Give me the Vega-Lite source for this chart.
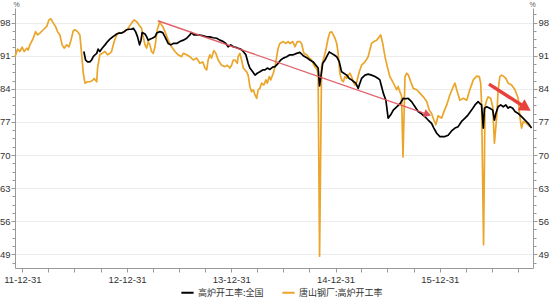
{
 "$schema": "https://vega.github.io/schema/vega-lite/v6.json",
 "width": 518,
 "height": 260,
 "autosize": {"type": "none"},
 "padding": {"left": 15, "top": 8, "right": 17, "bottom": 32},
 "background": "white",
 "config": {
  "view": {"stroke": null},
  "font": "Liberation Sans",
  "axis": {"labelFont": "Liberation Sans", "labelFontSize": 9.5, "labelColor": "#333333", "domainColor": "#999999", "tickColor": "#999999", "titleFont": "Liberation Sans", "titleFontWeight": "normal", "titleColor": "#555555"}
 },
 "datasets": {
  "rates": [
   {"date":"2011-12-05","value":90.8,"series":"唐山钢厂:高炉开工率"},
   {"date":"2011-12-14","value":92.4,"series":"唐山钢厂:高炉开工率"},
   {"date":"2011-12-22","value":91.9,"series":"唐山钢厂:高炉开工率"},
   {"date":"2011-12-30","value":92.8,"series":"唐山钢厂:高炉开工率"},
   {"date":"2012-01-06","value":91.9,"series":"唐山钢厂:高炉开工率"},
   {"date":"2012-01-15","value":92.6,"series":"唐山钢厂:高炉开工率"},
   {"date":"2012-01-20","value":92.2,"series":"唐山钢厂:高炉开工率"},
   {"date":"2012-01-26","value":93.3,"series":"唐山钢厂:高炉开工率"},
   {"date":"2012-02-07","value":94.7,"series":"唐山钢厂:高炉开工率"},
   {"date":"2012-02-15","value":96.1,"series":"唐山钢厂:高炉开工率"},
   {"date":"2012-02-22","value":95.4,"series":"唐山钢厂:高炉开工率"},
   {"date":"2012-03-01","value":95.8,"series":"唐山钢厂:高炉开工率"},
   {"date":"2012-03-13","value":96.5,"series":"唐山钢厂:高炉开工率"},
   {"date":"2012-03-25","value":97.2,"series":"唐山钢厂:高炉开工率"},
   {"date":"2012-04-02","value":98.6,"series":"唐山钢厂:高炉开工率"},
   {"date":"2012-04-09","value":98.8,"series":"唐山钢厂:高炉开工率"},
   {"date":"2012-04-17","value":97.9,"series":"唐山钢厂:高炉开工率"},
   {"date":"2012-04-25","value":97.2,"series":"唐山钢厂:高炉开工率"},
   {"date":"2012-05-02","value":96.1,"series":"唐山钢厂:高炉开工率"},
   {"date":"2012-05-10","value":95.4,"series":"唐山钢厂:高炉开工率"},
   {"date":"2012-05-18","value":93.3,"series":"唐山钢厂:高炉开工率"},
   {"date":"2012-05-25","value":92.6,"series":"唐山钢厂:高炉开工率"},
   {"date":"2012-06-03","value":93.3,"series":"唐山钢厂:高炉开工率"},
   {"date":"2012-06-11","value":92.9,"series":"唐山钢厂:高炉开工率"},
   {"date":"2012-06-18","value":94.3,"series":"唐山钢厂:高炉开工率"},
   {"date":"2012-06-26","value":96.3,"series":"唐山钢厂:高炉开工率"},
   {"date":"2012-07-02","value":96.5,"series":"唐山钢厂:高炉开工率"},
   {"date":"2012-07-11","value":96.1,"series":"唐山钢厂:高炉开工率"},
   {"date":"2012-07-19","value":95.4,"series":"唐山钢厂:高炉开工率"},
   {"date":"2012-07-25","value":91.5,"series":"唐山钢厂:高炉开工率"},
   {"date":"2012-07-31","value":87.3,"series":"唐山钢厂:高炉开工率"},
   {"date":"2012-08-06","value":85.2,"series":"唐山钢厂:高炉开工率"},
   {"date":"2012-08-15","value":85.5,"series":"唐山钢厂:高炉开工率"},
   {"date":"2012-08-23","value":85.5,"series":"唐山钢厂:高炉开工率"},
   {"date":"2012-08-31","value":85.7,"series":"唐山钢厂:高炉开工率"},
   {"date":"2012-09-07","value":86.2,"series":"唐山钢厂:高炉开工率"},
   {"date":"2012-09-16","value":85.5,"series":"唐山钢厂:高炉开工率"},
   {"date":"2012-09-19","value":88.4,"series":"唐山钢厂:高炉开工率"},
   {"date":"2012-09-27","value":91.2,"series":"唐山钢厂:高炉开工率"},
   {"date":"2012-10-05","value":91.5,"series":"唐山钢厂:高炉开工率"},
   {"date":"2012-10-15","value":91.9,"series":"唐山钢厂:高炉开工率"},
   {"date":"2012-10-24","value":91.2,"series":"唐山钢厂:高炉开工率"},
   {"date":"2012-11-01","value":91.5,"series":"唐山钢厂:高炉开工率"},
   {"date":"2012-11-07","value":91.9,"series":"唐山钢厂:高炉开工率"},
   {"date":"2012-11-16","value":94.0,"series":"唐山钢厂:高炉开工率"},
   {"date":"2012-11-25","value":95.4,"series":"唐山钢厂:高炉开工率"},
   {"date":"2012-12-03","value":95.9,"series":"唐山钢厂:高炉开工率"},
   {"date":"2012-12-12","value":95.8,"series":"唐山钢厂:高炉开工率"},
   {"date":"2012-12-24","value":96.2,"series":"唐山钢厂:高炉开工率"},
   {"date":"2013-01-04","value":96.8,"series":"唐山钢厂:高炉开工率"},
   {"date":"2013-01-16","value":97.9,"series":"唐山钢厂:高炉开工率"},
   {"date":"2013-01-25","value":98.6,"series":"唐山钢厂:高炉开工率"},
   {"date":"2013-02-03","value":98.2,"series":"唐山钢厂:高炉开工率"},
   {"date":"2013-02-11","value":97.5,"series":"唐山钢厂:高炉开工率"},
   {"date":"2013-02-20","value":96.8,"series":"唐山钢厂:高炉开工率"},
   {"date":"2013-02-26","value":95.0,"series":"唐山钢厂:高炉开工率"},
   {"date":"2013-03-04","value":93.3,"series":"唐山钢厂:高炉开工率"},
   {"date":"2013-03-10","value":92.6,"series":"唐山钢厂:高炉开工率"},
   {"date":"2013-03-15","value":94.0,"series":"唐山钢厂:高炉开工率"},
   {"date":"2013-03-21","value":93.3,"series":"唐山钢厂:高炉开工率"},
   {"date":"2013-03-27","value":91.9,"series":"唐山钢厂:高炉开工率"},
   {"date":"2013-04-02","value":91.5,"series":"唐山钢厂:高炉开工率"},
   {"date":"2013-04-08","value":92.9,"series":"唐山钢厂:高炉开工率"},
   {"date":"2013-04-16","value":96.5,"series":"唐山钢厂:高炉开工率"},
   {"date":"2013-04-24","value":98.1,"series":"唐山钢厂:高炉开工率"},
   {"date":"2013-05-05","value":97.2,"series":"唐山钢厂:高炉开工率"},
   {"date":"2013-05-13","value":96.1,"series":"唐山钢厂:高炉开工率"},
   {"date":"2013-05-24","value":94.3,"series":"唐山钢厂:高炉开工率"},
   {"date":"2013-06-05","value":92.9,"series":"唐山钢厂:高炉开工率"},
   {"date":"2013-06-17","value":91.9,"series":"唐山钢厂:高炉开工率"},
   {"date":"2013-06-28","value":91.2,"series":"唐山钢厂:高炉开工率"},
   {"date":"2013-07-10","value":90.8,"series":"唐山钢厂:高炉开工率"},
   {"date":"2013-07-16","value":91.5,"series":"唐山钢厂:高炉开工率"},
   {"date":"2013-07-28","value":91.2,"series":"唐山钢厂:高炉开工率"},
   {"date":"2013-08-08","value":90.8,"series":"唐山钢厂:高炉开工率"},
   {"date":"2013-08-20","value":90.1,"series":"唐山钢厂:高炉开工率"},
   {"date":"2013-09-01","value":90.5,"series":"唐山钢厂:高炉开工率"},
   {"date":"2013-09-12","value":89.4,"series":"唐山钢厂:高炉开工率"},
   {"date":"2013-09-22","value":89.7,"series":"唐山钢厂:高炉开工率"},
   {"date":"2013-09-30","value":88.4,"series":"唐山钢厂:高炉开工率"},
   {"date":"2013-10-06","value":88.0,"series":"唐山钢厂:高炉开工率"},
   {"date":"2013-10-11","value":90.1,"series":"唐山钢厂:高炉开工率"},
   {"date":"2013-10-17","value":91.2,"series":"唐山钢厂:高炉开工率"},
   {"date":"2013-10-23","value":90.5,"series":"唐山钢厂:高炉开工率"},
   {"date":"2013-10-31","value":92.1,"series":"唐山钢厂:高炉开工率"},
   {"date":"2013-11-07","value":91.5,"series":"唐山钢厂:高炉开工率"},
   {"date":"2013-11-15","value":90.1,"series":"唐山钢厂:高炉开工率"},
   {"date":"2013-11-27","value":89.0,"series":"唐山钢厂:高炉开工率"},
   {"date":"2013-12-09","value":88.7,"series":"唐山钢厂:高炉开工率"},
   {"date":"2013-12-17","value":89.0,"series":"唐山钢厂:高炉开工率"},
   {"date":"2013-12-26","value":88.4,"series":"唐山钢厂:高炉开工率"},
   {"date":"2014-01-01","value":89.0,"series":"唐山钢厂:高炉开工率"},
   {"date":"2014-01-07","value":90.1,"series":"唐山钢厂:高炉开工率"},
   {"date":"2014-01-13","value":90.1,"series":"唐山钢厂:高炉开工率"},
   {"date":"2014-01-21","value":89.4,"series":"唐山钢厂:高炉开工率"},
   {"date":"2014-01-24","value":90.8,"series":"唐山钢厂:高炉开工率"},
   {"date":"2014-01-30","value":91.5,"series":"唐山钢厂:高炉开工率"},
   {"date":"2014-02-05","value":90.1,"series":"唐山钢厂:高炉开工率"},
   {"date":"2014-02-11","value":88.4,"series":"唐山钢厂:高炉开工率"},
   {"date":"2014-02-23","value":87.6,"series":"唐山钢厂:高炉开工率"},
   {"date":"2014-02-28","value":86.9,"series":"唐山钢厂:高炉开工率"},
   {"date":"2014-03-06","value":84.5,"series":"唐山钢厂:高炉开工率"},
   {"date":"2014-03-12","value":83.4,"series":"唐山钢厂:高炉开工率"},
   {"date":"2014-03-18","value":83.8,"series":"唐山钢厂:高炉开工率"},
   {"date":"2014-03-24","value":82.7,"series":"唐山钢厂:高炉开工率"},
   {"date":"2014-03-30","value":82.0,"series":"唐山钢厂:高炉开工率"},
   {"date":"2014-04-04","value":83.8,"series":"唐山钢厂:高炉开工率"},
   {"date":"2014-04-10","value":84.1,"series":"唐山钢厂:高炉开工率"},
   {"date":"2014-04-16","value":85.2,"series":"唐山钢厂:高炉开工率"},
   {"date":"2014-04-24","value":84.8,"series":"唐山钢厂:高炉开工率"},
   {"date":"2014-05-01","value":85.9,"series":"唐山钢厂:高炉开工率"},
   {"date":"2014-05-06","value":85.2,"series":"唐山钢厂:高炉开工率"},
   {"date":"2014-05-13","value":86.6,"series":"唐山钢厂:高炉开工率"},
   {"date":"2014-05-18","value":85.9,"series":"唐山钢厂:高炉开工率"},
   {"date":"2014-05-27","value":87.3,"series":"唐山钢厂:高炉开工率"},
   {"date":"2014-06-02","value":88.7,"series":"唐山钢厂:高炉开工率"},
   {"date":"2014-06-08","value":90.8,"series":"唐山钢厂:高炉开工率"},
   {"date":"2014-06-13","value":92.6,"series":"唐山钢厂:高炉开工率"},
   {"date":"2014-06-19","value":93.6,"series":"唐山钢厂:高炉开工率"},
   {"date":"2014-07-01","value":94.0,"series":"唐山钢厂:高炉开工率"},
   {"date":"2014-07-10","value":93.6,"series":"唐山钢厂:高炉开工率"},
   {"date":"2014-07-18","value":94.0,"series":"唐山钢厂:高炉开工率"},
   {"date":"2014-07-24","value":93.6,"series":"唐山钢厂:高炉开工率"},
   {"date":"2014-08-03","value":94.0,"series":"唐山钢厂:高炉开工率"},
   {"date":"2014-08-11","value":92.9,"series":"唐山钢厂:高炉开工率"},
   {"date":"2014-08-19","value":94.0,"series":"唐山钢厂:高炉开工率"},
   {"date":"2014-08-28","value":94.0,"series":"唐山钢厂:高炉开工率"},
   {"date":"2014-09-03","value":93.6,"series":"唐山钢厂:高炉开工率"},
   {"date":"2014-09-11","value":91.5,"series":"唐山钢厂:高炉开工率"},
   {"date":"2014-09-21","value":91.2,"series":"唐山钢厂:高炉开工率"},
   {"date":"2014-09-30","value":90.5,"series":"唐山钢厂:高炉开工率"},
   {"date":"2014-10-08","value":90.1,"series":"唐山钢厂:高炉开工率"},
   {"date":"2014-10-16","value":89.0,"series":"唐山钢厂:高炉开工率"},
   {"date":"2014-10-23","value":88.4,"series":"唐山钢厂:高炉开工率"},
   {"date":"2014-10-28","value":88.0,"series":"唐山钢厂:高炉开工率"},
   {"date":"2014-10-31","value":86.6,"series":"唐山钢厂:高炉开工率"},
   {"date":"2014-11-05","value":48.6,"series":"唐山钢厂:高炉开工率"},
   {"date":"2014-11-12","value":88.7,"series":"唐山钢厂:高炉开工率"},
   {"date":"2014-11-18","value":90.1,"series":"唐山钢厂:高炉开工率"},
   {"date":"2014-11-27","value":92.2,"series":"唐山钢厂:高炉开工率"},
   {"date":"2014-12-05","value":94.7,"series":"唐山钢厂:高炉开工率"},
   {"date":"2014-12-11","value":95.9,"series":"唐山钢厂:高炉开工率"},
   {"date":"2014-12-17","value":96.1,"series":"唐山钢厂:高炉开工率"},
   {"date":"2014-12-23","value":95.4,"series":"唐山钢厂:高炉开工率"},
   {"date":"2014-12-29","value":94.7,"series":"唐山钢厂:高炉开工率"},
   {"date":"2015-01-04","value":93.6,"series":"唐山钢厂:高炉开工率"},
   {"date":"2015-01-09","value":91.5,"series":"唐山钢厂:高炉开工率"},
   {"date":"2015-01-15","value":87.3,"series":"唐山钢厂:高炉开工率"},
   {"date":"2015-01-21","value":85.9,"series":"唐山钢厂:高炉开工率"},
   {"date":"2015-01-27","value":85.5,"series":"唐山钢厂:高炉开工率"},
   {"date":"2015-02-02","value":86.6,"series":"唐山钢厂:高炉开工率"},
   {"date":"2015-02-08","value":86.2,"series":"唐山钢厂:高炉开工率"},
   {"date":"2015-02-13","value":86.9,"series":"唐山钢厂:高炉开工率"},
   {"date":"2015-02-19","value":87.3,"series":"唐山钢厂:高炉开工率"},
   {"date":"2015-02-25","value":86.6,"series":"唐山钢厂:高炉开工率"},
   {"date":"2015-03-03","value":85.5,"series":"唐山钢厂:高炉开工率"},
   {"date":"2015-03-09","value":84.8,"series":"唐山钢厂:高炉开工率"},
   {"date":"2015-03-15","value":85.5,"series":"唐山钢厂:高炉开工率"},
   {"date":"2015-03-24","value":87.6,"series":"唐山钢厂:高炉开工率"},
   {"date":"2015-04-01","value":89.0,"series":"唐山钢厂:高炉开工率"},
   {"date":"2015-04-13","value":89.7,"series":"唐山钢厂:高炉开工率"},
   {"date":"2015-04-24","value":90.8,"series":"唐山钢厂:高炉开工率"},
   {"date":"2015-04-30","value":92.2,"series":"唐山钢厂:高炉开工率"},
   {"date":"2015-05-06","value":93.6,"series":"唐山钢厂:高炉开工率"},
   {"date":"2015-05-14","value":94.0,"series":"唐山钢厂:高炉开工率"},
   {"date":"2015-05-24","value":94.3,"series":"唐山钢厂:高炉开工率"},
   {"date":"2015-06-02","value":95.0,"series":"唐山钢厂:高炉开工率"},
   {"date":"2015-06-07","value":95.4,"series":"唐山钢厂:高炉开工率"},
   {"date":"2015-06-14","value":93.6,"series":"唐山钢厂:高炉开工率"},
   {"date":"2015-06-22","value":90.8,"series":"唐山钢厂:高炉开工率"},
   {"date":"2015-06-30","value":88.7,"series":"唐山钢厂:高炉开工率"},
   {"date":"2015-07-09","value":86.6,"series":"唐山钢厂:高炉开工率"},
   {"date":"2015-07-19","value":85.5,"series":"唐山钢厂:高炉开工率"},
   {"date":"2015-07-27","value":84.5,"series":"唐山钢厂:高炉开工率"},
   {"date":"2015-08-02","value":83.8,"series":"唐山钢厂:高炉开工率"},
   {"date":"2015-08-07","value":84.5,"series":"唐山钢厂:高炉开工率"},
   {"date":"2015-08-13","value":83.4,"series":"唐山钢厂:高炉开工率"},
   {"date":"2015-08-19","value":82.5,"series":"唐山钢厂:高炉开工率"},
   {"date":"2015-08-24","value":69.6,"series":"唐山钢厂:高炉开工率"},
   {"date":"2015-08-31","value":86.6,"series":"唐山钢厂:高炉开工率"},
   {"date":"2015-09-06","value":87.3,"series":"唐山钢厂:高炉开工率"},
   {"date":"2015-09-12","value":86.9,"series":"唐山钢厂:高炉开工率"},
   {"date":"2015-09-20","value":85.5,"series":"唐山钢厂:高炉开工率"},
   {"date":"2015-09-29","value":84.1,"series":"唐山钢厂:高炉开工率"},
   {"date":"2015-10-11","value":83.8,"series":"唐山钢厂:高炉开工率"},
   {"date":"2015-10-22","value":83.1,"series":"唐山钢厂:高炉开工率"},
   {"date":"2015-11-03","value":82.3,"series":"唐山钢厂:高炉开工率"},
   {"date":"2015-11-15","value":81.3,"series":"唐山钢厂:高炉开工率"},
   {"date":"2015-11-24","value":79.5,"series":"唐山钢厂:高炉开工率"},
   {"date":"2015-12-02","value":78.8,"series":"唐山钢厂:高炉开工率"},
   {"date":"2015-12-10","value":77.4,"series":"唐山钢厂:高炉开工率"},
   {"date":"2015-12-17","value":76.4,"series":"唐山钢厂:高炉开工率"},
   {"date":"2015-12-25","value":78.3,"series":"唐山钢厂:高炉开工率"},
   {"date":"2016-01-06","value":77.8,"series":"唐山钢厂:高炉开工率"},
   {"date":"2016-01-12","value":78.8,"series":"唐山钢厂:高炉开工率"},
   {"date":"2016-01-24","value":80.6,"series":"唐山钢厂:高炉开工率"},
   {"date":"2016-02-04","value":82.7,"series":"唐山钢厂:高炉开工率"},
   {"date":"2016-02-16","value":84.5,"series":"唐山钢厂:高炉开工率"},
   {"date":"2016-02-22","value":85.2,"series":"唐山钢厂:高炉开工率"},
   {"date":"2016-02-28","value":83.8,"series":"唐山钢厂:高炉开工率"},
   {"date":"2016-03-10","value":81.6,"series":"唐山钢厂:高炉开工率"},
   {"date":"2016-03-22","value":82.0,"series":"唐山钢厂:高炉开工率"},
   {"date":"2016-04-03","value":81.6,"series":"唐山钢厂:高炉开工率"},
   {"date":"2016-04-14","value":83.8,"series":"唐山钢厂:高炉开工率"},
   {"date":"2016-04-26","value":85.9,"series":"唐山钢厂:高炉开工率"},
   {"date":"2016-05-08","value":86.7,"series":"唐山钢厂:高炉开工率"},
   {"date":"2016-05-17","value":86.6,"series":"唐山钢厂:高炉开工率"},
   {"date":"2016-05-22","value":85.2,"series":"唐山钢厂:高炉开工率"},
   {"date":"2016-05-25","value":80.9,"series":"唐山钢厂:高炉开工率"},
   {"date":"2016-06-01","value":51.0,"series":"唐山钢厂:高炉开工率"},
   {"date":"2016-06-06","value":80.2,"series":"唐山钢厂:高炉开工率"},
   {"date":"2016-06-12","value":81.6,"series":"唐山钢厂:高炉开工率"},
   {"date":"2016-06-17","value":82.3,"series":"唐山钢厂:高炉开工率"},
   {"date":"2016-06-26","value":82.0,"series":"唐山钢厂:高炉开工率"},
   {"date":"2016-07-03","value":80.2,"series":"唐山钢厂:高炉开工率"},
   {"date":"2016-07-09","value":72.5,"series":"唐山钢厂:高炉开工率"},
   {"date":"2016-07-17","value":78.1,"series":"唐山钢厂:高炉开工率"},
   {"date":"2016-07-22","value":83.8,"series":"唐山钢厂:高炉开工率"},
   {"date":"2016-07-28","value":86.6,"series":"唐山钢厂:高炉开工率"},
   {"date":"2016-08-03","value":86.9,"series":"唐山钢厂:高炉开工率"},
   {"date":"2016-08-11","value":86.6,"series":"唐山钢厂:高炉开工率"},
   {"date":"2016-08-18","value":86.2,"series":"唐山钢厂:高炉开工率"},
   {"date":"2016-08-26","value":85.2,"series":"唐山钢厂:高炉开工率"},
   {"date":"2016-09-07","value":84.8,"series":"唐山钢厂:高炉开工率"},
   {"date":"2016-09-19","value":83.8,"series":"唐山钢厂:高炉开工率"},
   {"date":"2016-09-30","value":82.0,"series":"唐山钢厂:高炉开工率"},
   {"date":"2016-10-06","value":78.1,"series":"唐山钢厂:高炉开工率"},
   {"date":"2016-10-12","value":75.7,"series":"唐山钢厂:高炉开工率"},
   {"date":"2016-10-18","value":77.1,"series":"唐山钢厂:高炉开工率"},
   {"date":"2016-10-30","value":76.7,"series":"唐山钢厂:高炉开工率"},
   {"date":"2016-11-10","value":76.0,"series":"唐山钢厂:高炉开工率"},
   {"date":"2012-08-02","value":91.9,"series":"高炉开工率:全国"},
   {"date":"2012-08-08","value":90.1,"series":"高炉开工率:全国"},
   {"date":"2012-08-15","value":89.7,"series":"高炉开工率:全国"},
   {"date":"2012-08-23","value":89.7,"series":"高炉开工率:全国"},
   {"date":"2012-08-29","value":90.1,"series":"高炉开工率:全国"},
   {"date":"2012-09-04","value":90.8,"series":"高炉开工率:全国"},
   {"date":"2012-09-10","value":91.2,"series":"高炉开工率:全国"},
   {"date":"2012-09-16","value":91.5,"series":"高炉开工率:全国"},
   {"date":"2012-09-21","value":92.4,"series":"高炉开工率:全国"},
   {"date":"2012-09-27","value":91.9,"series":"高炉开工率:全国"},
   {"date":"2012-10-05","value":92.6,"series":"高炉开工率:全国"},
   {"date":"2012-10-15","value":93.3,"series":"高炉开工率:全国"},
   {"date":"2012-10-24","value":94.0,"series":"高炉开工率:全国"},
   {"date":"2012-11-01","value":94.5,"series":"高炉开工率:全国"},
   {"date":"2012-11-09","value":94.9,"series":"高炉开工率:全国"},
   {"date":"2012-11-16","value":95.2,"series":"高炉开工率:全国"},
   {"date":"2012-11-25","value":95.6,"series":"高炉开工率:全国"},
   {"date":"2012-12-03","value":95.8,"series":"高炉开工率:全国"},
   {"date":"2012-12-12","value":95.8,"series":"高炉开工率:全国"},
   {"date":"2012-12-21","value":96.1,"series":"高炉开工率:全国"},
   {"date":"2012-12-30","value":96.5,"series":"高炉开工率:全国"},
   {"date":"2013-01-07","value":96.6,"series":"高炉开工率:全国"},
   {"date":"2013-01-16","value":96.6,"series":"高炉开工率:全国"},
   {"date":"2013-01-22","value":96.8,"series":"高炉开工率:全国"},
   {"date":"2013-01-30","value":96.1,"series":"高炉开工率:全国"},
   {"date":"2013-02-06","value":95.0,"series":"高炉开工率:全国"},
   {"date":"2013-02-13","value":93.3,"series":"高炉开工率:全国"},
   {"date":"2013-02-18","value":94.3,"series":"高炉开工率:全国"},
   {"date":"2013-02-22","value":95.9,"series":"高炉开工率:全国"},
   {"date":"2013-03-04","value":95.6,"series":"高炉开工率:全国"},
   {"date":"2013-03-10","value":95.0,"series":"高炉开工率:全国"},
   {"date":"2013-03-15","value":94.3,"series":"高炉开工率:全国"},
   {"date":"2013-03-21","value":94.5,"series":"高炉开工率:全国"},
   {"date":"2013-03-29","value":94.7,"series":"高炉开工率:全国"},
   {"date":"2013-04-08","value":95.0,"series":"高炉开工率:全国"},
   {"date":"2013-04-14","value":95.8,"series":"高炉开工率:全国"},
   {"date":"2013-04-25","value":96.1,"series":"高炉开工率:全国"},
   {"date":"2013-05-05","value":95.9,"series":"高炉开工率:全国"},
   {"date":"2013-05-13","value":95.0,"series":"高炉开工率:全国"},
   {"date":"2013-05-24","value":93.6,"series":"高炉开工率:全国"},
   {"date":"2013-06-02","value":93.3,"series":"高炉开工率:全国"},
   {"date":"2013-06-11","value":93.6,"series":"高炉开工率:全国"},
   {"date":"2013-06-23","value":93.6,"series":"高炉开工率:全国"},
   {"date":"2013-07-04","value":94.0,"series":"高炉开工率:全国"},
   {"date":"2013-07-16","value":94.3,"series":"高炉开工率:全国"},
   {"date":"2013-07-28","value":94.7,"series":"高炉开工率:全国"},
   {"date":"2013-08-08","value":95.4,"series":"高炉开工率:全国"},
   {"date":"2013-08-14","value":95.9,"series":"高炉开工率:全国"},
   {"date":"2013-08-22","value":95.4,"series":"高炉开工率:全国"},
   {"date":"2013-09-01","value":95.4,"series":"高炉开工率:全国"},
   {"date":"2013-09-12","value":95.4,"series":"高炉开工率:全国"},
   {"date":"2013-09-24","value":95.2,"series":"高炉开工率:全国"},
   {"date":"2013-10-06","value":95.0,"series":"高炉开工率:全国"},
   {"date":"2013-10-17","value":95.0,"series":"高炉开工率:全国"},
   {"date":"2013-10-29","value":94.8,"series":"高炉开工率:全国"},
   {"date":"2013-11-10","value":94.7,"series":"高炉开工率:全国"},
   {"date":"2013-11-21","value":94.3,"series":"高炉开工率:全国"},
   {"date":"2013-12-03","value":94.0,"series":"高炉开工率:全国"},
   {"date":"2013-12-12","value":93.6,"series":"高炉开工率:全国"},
   {"date":"2013-12-20","value":92.9,"series":"高炉开工率:全国"},
   {"date":"2013-12-29","value":93.3,"series":"高炉开工率:全国"},
   {"date":"2014-01-07","value":92.9,"series":"高炉开工率:全国"},
   {"date":"2014-01-16","value":92.8,"series":"高炉开工率:全国"},
   {"date":"2014-01-24","value":92.6,"series":"高炉开工率:全国"},
   {"date":"2014-02-02","value":92.4,"series":"高炉开工率:全国"},
   {"date":"2014-02-11","value":91.9,"series":"高炉开工率:全国"},
   {"date":"2014-02-20","value":91.2,"series":"高炉开工率:全国"},
   {"date":"2014-02-28","value":89.4,"series":"高炉开工率:全国"},
   {"date":"2014-03-06","value":88.4,"series":"高炉开工率:全国"},
   {"date":"2014-03-16","value":87.6,"series":"高炉开工率:全国"},
   {"date":"2014-03-24","value":86.9,"series":"高炉开工率:全国"},
   {"date":"2014-04-01","value":87.3,"series":"高炉开工率:全国"},
   {"date":"2014-04-10","value":87.6,"series":"高炉开工率:全国"},
   {"date":"2014-04-20","value":88.0,"series":"高炉开工率:全国"},
   {"date":"2014-04-28","value":88.0,"series":"高炉开工率:全国"},
   {"date":"2014-05-06","value":88.4,"series":"高炉开工率:全国"},
   {"date":"2014-05-15","value":88.1,"series":"高炉开工率:全国"},
   {"date":"2014-05-25","value":88.6,"series":"高炉开工率:全国"},
   {"date":"2014-06-02","value":88.7,"series":"高炉开工率:全国"},
   {"date":"2014-06-13","value":89.4,"series":"高炉开工率:全国"},
   {"date":"2014-06-22","value":90.1,"series":"高炉开工率:全国"},
   {"date":"2014-07-01","value":90.5,"series":"高炉开工率:全国"},
   {"date":"2014-07-13","value":90.8,"series":"高炉开工率:全国"},
   {"date":"2014-07-24","value":91.2,"series":"高炉开工率:全国"},
   {"date":"2014-08-05","value":91.2,"series":"高炉开工率:全国"},
   {"date":"2014-08-17","value":91.5,"series":"高炉开工率:全国"},
   {"date":"2014-08-28","value":91.7,"series":"高炉开工率:全国"},
   {"date":"2014-09-09","value":91.0,"series":"高炉开工率:全国"},
   {"date":"2014-09-21","value":90.6,"series":"高炉开工率:全国"},
   {"date":"2014-10-02","value":90.1,"series":"高炉开工率:全国"},
   {"date":"2014-10-14","value":89.7,"series":"高炉开工率:全国"},
   {"date":"2014-10-23","value":89.0,"series":"高炉开工率:全国"},
   {"date":"2014-10-31","value":88.4,"series":"高炉开工率:全国"},
   {"date":"2014-11-05","value":84.6,"series":"高炉开工率:全国"},
   {"date":"2014-11-16","value":89.4,"series":"高炉开工率:全国"},
   {"date":"2014-11-24","value":90.1,"series":"高炉开工率:全国"},
   {"date":"2014-11-30","value":90.8,"series":"高炉开工率:全国"},
   {"date":"2014-12-09","value":91.8,"series":"高炉开工率:全国"},
   {"date":"2014-12-17","value":91.5,"series":"高炉开工率:全国"},
   {"date":"2014-12-25","value":91.2,"series":"高炉开工率:全国"},
   {"date":"2015-01-04","value":90.8,"series":"高炉开工率:全国"},
   {"date":"2015-01-13","value":89.7,"series":"高炉开工率:全国"},
   {"date":"2015-01-21","value":87.6,"series":"高炉开工率:全国"},
   {"date":"2015-01-29","value":87.3,"series":"高炉开工率:全国"},
   {"date":"2015-02-08","value":86.9,"series":"高炉开工率:全国"},
   {"date":"2015-02-17","value":86.2,"series":"高炉开工率:全国"},
   {"date":"2015-02-25","value":85.9,"series":"高炉开工率:全国"},
   {"date":"2015-03-05","value":85.5,"series":"高炉开工率:全国"},
   {"date":"2015-03-12","value":85.2,"series":"高炉开工率:全国"},
   {"date":"2015-03-20","value":84.1,"series":"高炉开工率:全国"},
   {"date":"2015-03-24","value":84.8,"series":"高炉开工率:全国"},
   {"date":"2015-04-01","value":86.2,"series":"高炉开工率:全国"},
   {"date":"2015-04-13","value":86.9,"series":"高炉开工率:全国"},
   {"date":"2015-04-24","value":87.1,"series":"高炉开工率:全国"},
   {"date":"2015-05-06","value":86.9,"series":"高炉开工率:全国"},
   {"date":"2015-05-18","value":86.6,"series":"高炉开工率:全国"},
   {"date":"2015-05-29","value":86.2,"series":"高炉开工率:全国"},
   {"date":"2015-06-04","value":85.9,"series":"高炉开工率:全国"},
   {"date":"2015-06-10","value":84.5,"series":"高炉开工率:全国"},
   {"date":"2015-06-16","value":83.1,"series":"高炉开工率:全国"},
   {"date":"2015-06-25","value":81.6,"series":"高炉开工率:全国"},
   {"date":"2015-07-03","value":77.8,"series":"高炉开工率:全国"},
   {"date":"2015-07-12","value":78.5,"series":"高炉开工率:全国"},
   {"date":"2015-07-21","value":79.5,"series":"高炉开工率:全国"},
   {"date":"2015-08-02","value":80.2,"series":"高炉开工率:全国"},
   {"date":"2015-08-13","value":80.8,"series":"高炉开工率:全国"},
   {"date":"2015-08-25","value":82.0,"series":"高炉开工率:全国"},
   {"date":"2015-09-03","value":81.9,"series":"高炉开工率:全国"},
   {"date":"2015-09-11","value":82.0,"series":"高炉开工率:全国"},
   {"date":"2015-09-23","value":81.3,"series":"高炉开工率:全国"},
   {"date":"2015-10-05","value":80.2,"series":"高炉开工率:全国"},
   {"date":"2015-10-16","value":79.2,"series":"高炉开工率:全国"},
   {"date":"2015-10-28","value":78.7,"series":"高炉开工率:全国"},
   {"date":"2015-11-09","value":78.1,"series":"高炉开工率:全国"},
   {"date":"2015-11-20","value":77.4,"series":"高炉开工率:全国"},
   {"date":"2015-12-02","value":76.7,"series":"高炉开工率:全国"},
   {"date":"2015-12-10","value":75.7,"series":"高炉开工率:全国"},
   {"date":"2015-12-20","value":74.6,"series":"高炉开工率:全国"},
   {"date":"2015-12-31","value":73.9,"series":"高炉开工率:全国"},
   {"date":"2016-01-18","value":73.9,"series":"高炉开工率:全国"},
   {"date":"2016-01-29","value":74.2,"series":"高炉开工率:全国"},
   {"date":"2016-02-10","value":75.1,"series":"高炉开工率:全国"},
   {"date":"2016-02-22","value":75.7,"series":"高炉开工率:全国"},
   {"date":"2016-03-04","value":76.0,"series":"高炉开工率:全国"},
   {"date":"2016-03-16","value":77.1,"series":"高炉开工率:全国"},
   {"date":"2016-03-28","value":77.8,"series":"高炉开工率:全国"},
   {"date":"2016-04-08","value":78.5,"series":"高炉开工率:全国"},
   {"date":"2016-04-20","value":79.5,"series":"高炉开工率:全国"},
   {"date":"2016-05-02","value":80.6,"series":"高炉开工率:全国"},
   {"date":"2016-05-13","value":81.3,"series":"高炉开工率:全国"},
   {"date":"2016-05-19","value":80.9,"series":"高炉开工率:全国"},
   {"date":"2016-05-25","value":80.6,"series":"高炉开工率:全国"},
   {"date":"2016-05-31","value":75.7,"series":"高炉开工率:全国"},
   {"date":"2016-06-04","value":79.9,"series":"高炉开工率:全国"},
   {"date":"2016-06-12","value":80.2,"series":"高炉开工率:全国"},
   {"date":"2016-06-23","value":79.9,"series":"高炉开工率:全国"},
   {"date":"2016-07-03","value":79.5,"series":"高炉开工率:全国"},
   {"date":"2016-07-09","value":77.4,"series":"高炉开工率:全国"},
   {"date":"2016-07-14","value":78.8,"series":"高炉开工率:全国"},
   {"date":"2016-07-22","value":80.2,"series":"高炉开工率:全国"},
   {"date":"2016-07-31","value":80.6,"series":"高炉开工率:全国"},
   {"date":"2016-08-09","value":80.2,"series":"高炉开工率:全国"},
   {"date":"2016-08-18","value":80.6,"series":"高炉开工率:全国"},
   {"date":"2016-08-26","value":79.9,"series":"高炉开工率:全国"},
   {"date":"2016-09-01","value":80.2,"series":"高炉开工率:全国"},
   {"date":"2016-09-11","value":79.9,"series":"高炉开工率:全国"},
   {"date":"2016-09-19","value":79.2,"series":"高炉开工率:全国"},
   {"date":"2016-09-30","value":78.8,"series":"高炉开工率:全国"},
   {"date":"2016-10-12","value":78.1,"series":"高炉开工率:全国"},
   {"date":"2016-10-24","value":77.4,"series":"高炉开工率:全国"},
   {"date":"2016-11-04","value":76.7,"series":"高炉开工率:全国"},
   {"date":"2016-11-16","value":75.7,"series":"高炉开工率:全国"}
  ],
  "arrows": [
   {"arrow":"long","date":"2013-04-18","value":98.4,"date2":"2015-11-18","value2":78.6},
   {"arrow":"short","date":"2016-06-20","value":85.0,"date2":"2016-10-27","value2":80.0}
  ]
 },
 "encoding": {
  "x": {
   "field": "date", "type": "temporal",
   "scale": {"domain": [{"year": 2011, "month": 12, "date": 5}, {"year": 2016, "month": 11, "date": 21}]},
   "axis": {
    "title": null, "grid": false, "tickSize": 4, "labelPadding": 2, "labelOverlap": false, "labelFlush": false,
    "values": [
     {"year":2011,"month":12,"date":31},
     {"year":2012,"month":3,"date":31},{"year":2012,"month":6,"date":30},{"year":2012,"month":9,"date":30},{"year":2012,"month":12,"date":31},
     {"year":2013,"month":3,"date":31},{"year":2013,"month":6,"date":30},{"year":2013,"month":9,"date":30},{"year":2013,"month":12,"date":31},
     {"year":2014,"month":3,"date":31},{"year":2014,"month":6,"date":30},{"year":2014,"month":9,"date":30},{"year":2014,"month":12,"date":31},
     {"year":2015,"month":3,"date":31},{"year":2015,"month":6,"date":30},{"year":2015,"month":9,"date":30},{"year":2015,"month":12,"date":31},
     {"year":2016,"month":3,"date":31},{"year":2016,"month":6,"date":30},{"year":2016,"month":9,"date":30}
    ],
    "labelExpr": "month(datum.value) == 11 ? timeFormat(datum.value, '%y-%m-%d') : ''"
   }
  }
 },
 "resolve": {"axis": {"y": "independent"}},
 "layer": [
  {
   "data": {"name": "rates"},
   "mark": {"type": "line", "strokeWidth": 1.7, "strokeJoin": "round"},
   "encoding": {
    "y": {
     "field": "value", "type": "quantitative",
     "scale": {"domain": [46.1, 101.1], "nice": false, "zero": false},
     "axis": {
      "orient": "left", "title": "%", "titleAngle": 0, "titleX": 1, "titleY": -1, "titleAlign": "center", "titleBaseline": "bottom", "titleFontSize": 7,
      "values": [47.25,49,50.75,52.5,54.25,56,57.75,59.5,61.25,63,64.75,66.5,68.25,70,71.75,73.5,75.25,77,78.75,80.5,82.25,84,85.75,87.5,89.25,91,92.75,94.5,96.25,98,99.75],
      "labelExpr": "abs((datum.value - 49) % 7) < 0.01 ? format(datum.value, 'd') : ''",
      "labelPadding": 1, "labelOverlap": false,
      "grid": true, "gridColor": "#ececec",
      "gridOpacity": {"condition": {"test": "abs((datum.value - 49) % 7) < 0.01", "value": 1}, "value": 0},
      "tickSize": {"condition": {"test": "abs((datum.value - 49) % 7) < 0.01", "value": 4}, "value": 3}
     }
    },
    "color": {
     "field": "series", "type": "nominal",
     "scale": {"domain": ["高炉开工率:全国", "唐山钢厂:高炉开工率"], "range": ["#000000", "#EBA52A"]},
     "legend": {
      "title": null, "orient": "none", "direction": "horizontal", "legendX": 165, "legendY": 277,
      "symbolType": "stroke", "symbolSize": 150, "symbolStrokeWidth": 2,
      "labelFont": "Noto Sans CJK SC", "labelFontSize": 9, "labelColor": "#333333", "labelOffset": 3, "columnPadding": 14, "labelLimit": 200
     }
    }
   }
  },
  {
   "data": {"name": "arrows"},
   "transform": [{"filter": "datum.arrow == 'long'"}],
   "mark": {"type": "rule", "color": "#E0505A", "strokeWidth": 1.4, "opacity": 0.9},
   "encoding": {
    "x2": {"field": "date2"},
    "y": {
     "field": "value", "type": "quantitative",
     "axis": {
      "orient": "right", "title": "%", "titleAngle": 0, "titleX": -1, "titleY": -1, "titleAlign": "center", "titleBaseline": "bottom", "titleFontSize": 7,
      "values": [47.25,49,50.75,52.5,54.25,56,57.75,59.5,61.25,63,64.75,66.5,68.25,70,71.75,73.5,75.25,77,78.75,80.5,82.25,84,85.75,87.5,89.25,91,92.75,94.5,96.25,98,99.75],
      "labelExpr": "abs((datum.value - 49) % 7) < 0.01 ? format(datum.value, 'd') : ''",
      "labelPadding": 1, "labelOverlap": false, "grid": false,
      "tickSize": {"condition": {"test": "abs((datum.value - 49) % 7) < 0.01", "value": 4}, "value": 3}
     }
    },
    "y2": {"field": "value2"}
   }
  },
  {
   "data": {"name": "arrows"},
   "transform": [{"filter": "datum.arrow == 'short'"}],
   "mark": {"type": "rule", "color": "#E8413C", "strokeWidth": 3.5},
   "encoding": {
    "x2": {"field": "date2"},
    "y": {"field": "value", "type": "quantitative", "axis": null},
    "y2": {"field": "value2"}
   }
  },
  {
   "data": {"name": "arrows"},
   "transform": [{"filter": "datum.arrow == 'long'"}],
   "mark": {"type": "point", "shape": "triangle-right", "filled": true, "color": "#E0505A", "size": 70, "angle": 19, "opacity": 1},
   "encoding": {
    "x": {"field": "date2", "type": "temporal"},
    "y": {"field": "value2", "type": "quantitative", "axis": null}
   }
  },
  {
   "data": {"name": "arrows"},
   "transform": [{"filter": "datum.arrow == 'short'"}],
   "mark": {"type": "point", "shape": "triangle-right", "filled": true, "color": "#E8413C", "size": 170, "angle": 32, "opacity": 1},
   "encoding": {
    "x": {"field": "date2", "type": "temporal"},
    "y": {"field": "value2", "type": "quantitative", "axis": null}
   }
  }
 ]
}
